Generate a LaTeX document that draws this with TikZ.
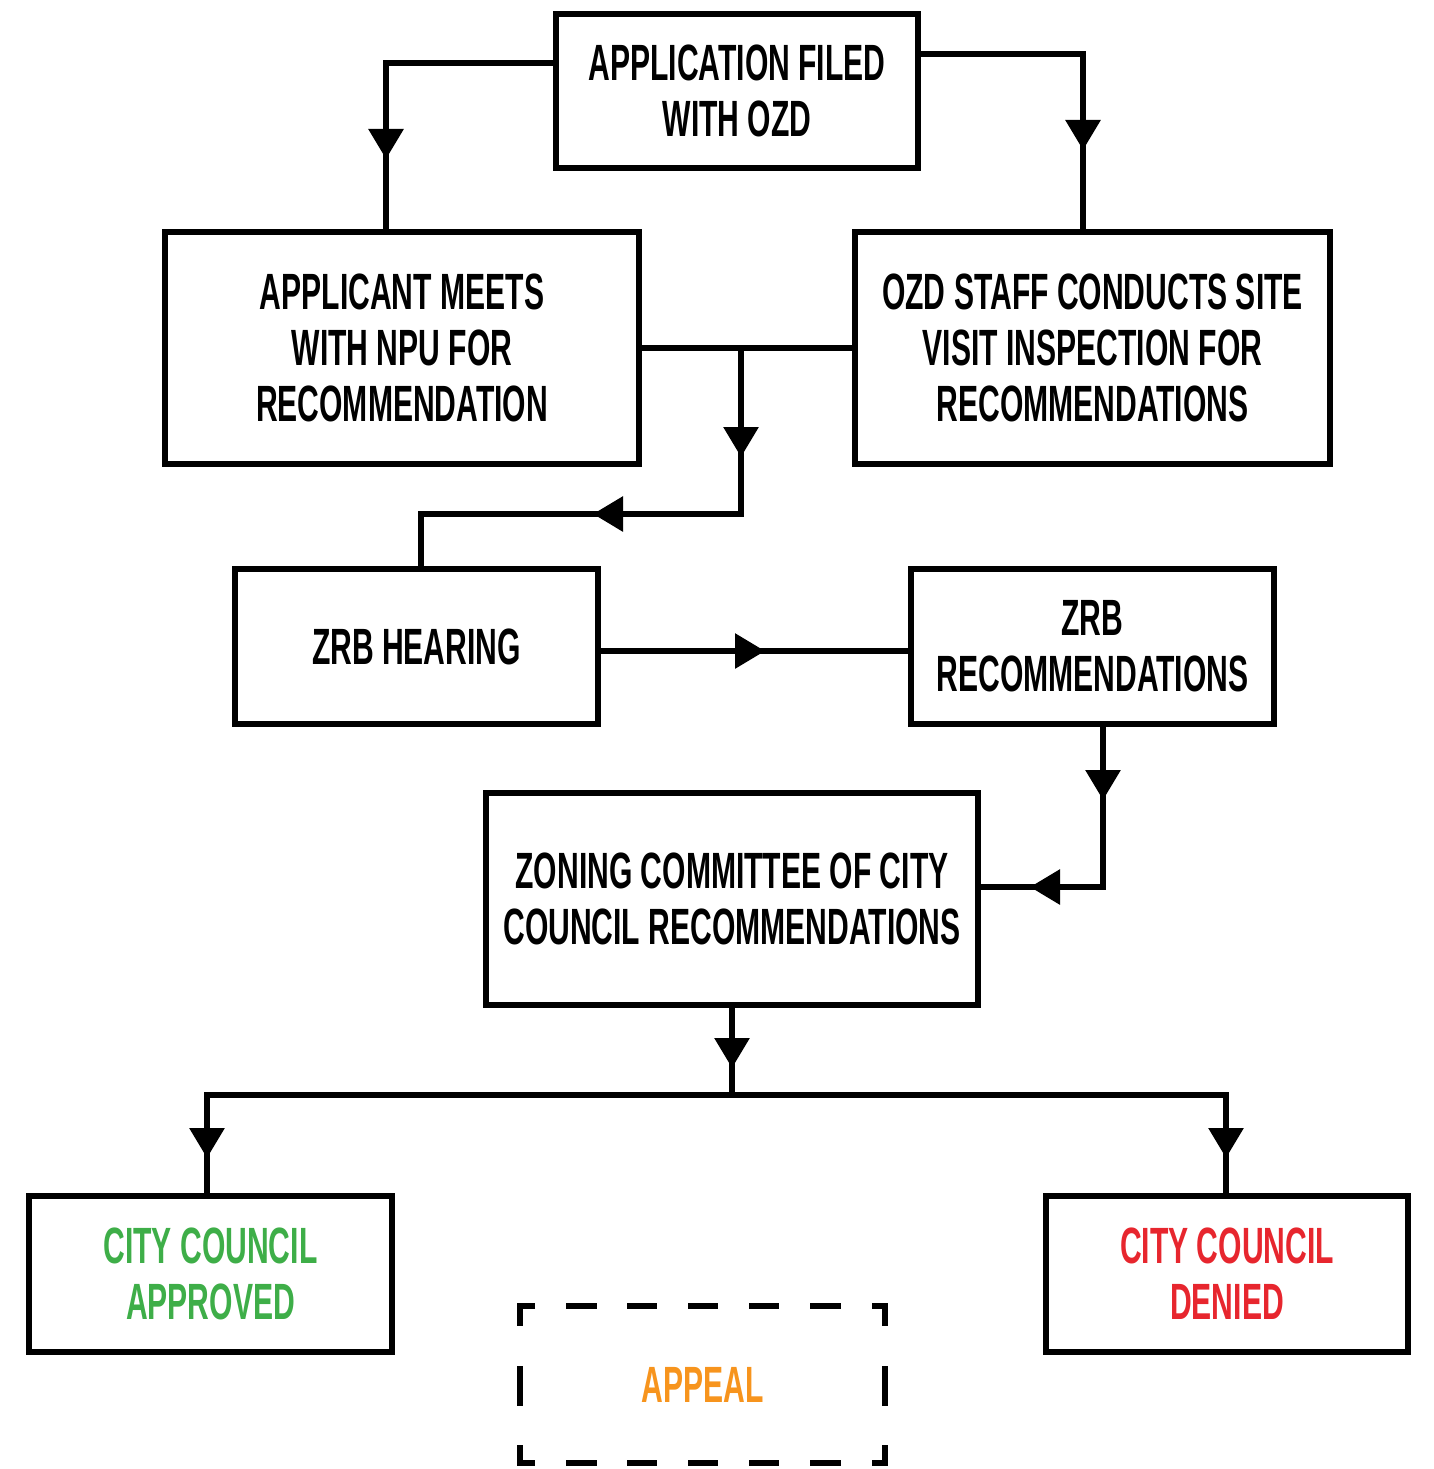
\documentclass[tikz,border=0pt]{standalone}
\usepackage{fontspec}
\newfontfamily\cond[FakeStretch=0.59]{Liberation Sans Bold}
\usetikzlibrary{arrows.meta,decorations.markings}
\definecolor{okgreen}{HTML}{3EAE48}
\definecolor{nored}{HTML}{E7262E}
\definecolor{apporange}{HTML}{F7941D}
\begin{document}
\begin{tikzpicture}[x=1pt,y=-1pt,
  txt/.style={font=\cond\fontsize{51}{56}\selectfont,align=center},
  box/.style={txt,draw,line width=6pt,inner sep=0pt,outer sep=0pt},
  conn/.style={line width=6pt},
  arr/.style={postaction={decorate,decoration={markings,
     mark=at position #1 with {\arrow{Triangle[width=34pt,length=30pt]}}}}},
  dsh/.style={line width=6pt}]
\fill[white] (0,0) rectangle (1434,1469);
\useasboundingbox (0,0) rectangle (1434,1469);

\node[box,minimum width=362pt,minimum height=154pt] (A) at (737,91) {APPLICATION FILED\\WITH OZD};
\node[box,minimum width=474pt,minimum height=232pt] (B) at (402,348) {APPLICANT MEETS\\WITH NPU FOR\\RECOMMENDATION};
\node[box,minimum width=475pt,minimum height=232pt] (C) at (1092.5,348) {OZD STAFF CONDUCTS SITE\\VISIT INSPECTION FOR\\RECOMMENDATIONS};
\node[box,minimum width=363pt,minimum height=155pt] (D) at (416.5,646.5) {ZRB HEARING};
\node[box,minimum width=363pt,minimum height=155pt] (E) at (1092.5,646.5) {ZRB\\RECOMMENDATIONS};
\node[box,minimum width=492pt,minimum height=212pt] (F) at (732,899) {ZONING COMMITTEE OF CITY\\COUNCIL RECOMMENDATIONS};
\node[box,text=okgreen,minimum width=363pt,minimum height=156pt] (G) at (210.5,1274) {CITY COUNCIL\\APPROVED};
\node[box,text=nored,minimum width=362pt,minimum height=156pt] (H) at (1227,1274) {CITY COUNCIL\\DENIED};
\node[txt,text=apporange] (P) at (702.5,1384.5) {APPEAL};

% dashed appeal frame
\draw[dsh] (535,1306) -- (520,1306) -- (520,1326);
\draw[dsh] (872,1306) -- (885,1306) -- (885,1326);
\draw[dsh] (520,1445) -- (520,1463) -- (535,1463);
\draw[dsh] (885,1445) -- (885,1463) -- (872,1463);
\draw[dsh] (520,1366) -- (520,1406);
\draw[dsh] (885,1366) -- (885,1406);
\foreach \a/\b in {566/597,627/657,688/718,749/779,810/841}{
  \draw[dsh] (\a,1306) -- (\b,1306);
  \draw[dsh] (\a,1463) -- (\b,1463);
}

% connectors
\coordinate (j1) at (741,348);
\coordinate (j2) at (741,514);
\coordinate (j3) at (732,1095);
\draw[conn,arr=266pt] (A.west |- 0,63) -| (B.north -| 386,0);
\draw[conn,arr=261pt] (A.east |- 0,54) -| (C.north -| 1083,0);
\draw[conn] (B.east) -- (C.west);
\draw[conn,arr=109pt,arr=314pt] (j1) -- (j2) -| (D.north -| 421,0);
\draw[conn,arr=167pt] (D.east |- 0,651) -- (E.west |- 0,651);
\draw[conn,arr=76pt,arr=236pt] (E.south -| 1103,0) |- (F.east |- 0,887);
\draw[conn,arr=63pt] (F.south) -- (j3);
\draw[conn,arr=588pt] (j3) -| (G.north -| 207,0);
\draw[conn,arr=557pt] (j3) -| (H.north -| 1226,0);
\end{tikzpicture}
\end{document}
